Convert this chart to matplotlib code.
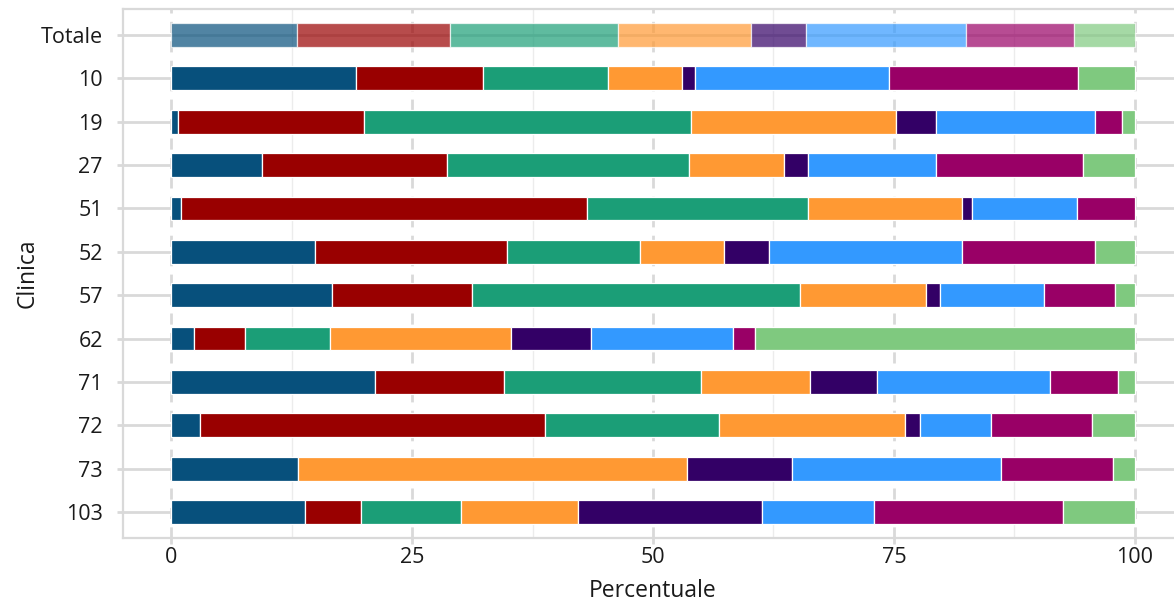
import matplotlib
matplotlib.use("Agg")
import matplotlib.pyplot as plt
import numpy as np

plt.rcParams['font.family'] = ['Open Sans', 'DejaVu Sans']

# clinics, top to bottom
clinics = ["Totale", "10", "19", "27", "51", "52", "57", "62", "71", "72", "73", "103"]

# percent share of each category per clinic
cat1 = [13.1, 19.2, 0.7, 9.4, 1.0, 14.9, 16.7, 2.4, 21.2, 3.0, 13.2, 13.9]
cat2 = [15.8, 13.2, 19.3, 19.2, 42.1, 19.9, 14.5, 5.3, 13.3, 35.8, 0.0, 5.8]
cat3 = [17.5, 12.9, 33.9, 25.1, 23.0, 13.9, 34.1, 8.8, 20.5, 18.0, 0.0, 10.4]
cat4 = [13.8, 7.7, 21.3, 9.9, 16.0, 8.7, 13.0, 18.8, 11.3, 19.4, 40.3, 12.1]
cat5 = [5.7, 1.4, 4.2, 2.5, 1.0, 4.6, 1.5, 8.3, 6.9, 1.5, 10.9, 19.1]
cat6 = [16.6, 20.1, 16.5, 13.3, 10.9, 20.1, 10.8, 14.7, 18.0, 7.4, 21.7, 11.6]
cat7 = [11.2, 19.6, 2.8, 15.2, 6.0, 13.8, 7.3, 2.3, 7.1, 10.5, 11.6, 19.6]
cat8 = [6.3, 5.9, 1.3, 5.4, 0.0, 4.1, 2.1, 39.4, 1.7, 4.4, 2.3, 7.5]

colors = ["#07507c", "#990000", "#1b9e77", "#ff9933",
          "#330066", "#3399ff", "#990066", "#7fc97f"]

series = [cat1, cat2, cat3, cat4, cat5, cat6, cat7, cat8]

fig = plt.figure(figsize=(11.74, 6.03), dpi=100)
ax = fig.add_axes([123/1174, 65/603, 1060/1174, 529/603])

y = np.arange(len(clinics))
left = np.zeros(len(clinics))
for vals, col in zip(series, colors):
    vals = np.array(vals)
    for i in range(len(clinics)):
        if vals[i] <= 0:
            continue
        ax.barh(y[i], vals[i], left=left[i], height=0.55, color=col,
                alpha=0.7 if i == 0 else 1.0, edgecolor="white",
                linewidth=0.9, zorder=3)
    left += vals

ax.set_xlim(-5, 105)
ax.set_ylim(len(clinics) - 0.4, -0.6)

ax.set_xticks([0, 25, 50, 75, 100])
ax.set_xticks([12.5, 37.5, 62.5, 87.5], minor=True)
ax.set_yticks(y)
ax.set_yticklabels(clinics)

# grid
ax.grid(axis="x", which="major", color="#d9d9d9", linestyle=(0, (4, 3)),
        linewidth=2, zorder=1)
ax.grid(axis="x", which="minor", color="#ececec", linewidth=1, zorder=1)
ax.grid(axis="y", which="major", color="#d9d9d9", linewidth=2, zorder=1)

for s in ax.spines.values():
    s.set_color("#d9d9d9")
    s.set_linewidth(1.6)

ax.tick_params(axis="both", which="major", color="#d9d9d9", length=4.5,
               width=2, labelsize=15.5, labelcolor="#1a1a1a")
ax.tick_params(axis="x", which="minor", length=0)
ax.tick_params(axis="x", pad=2)
ax.tick_params(axis="y", pad=10)

ax.set_xlabel("Percentuale", fontsize=16.5, color="#1a1a1a", labelpad=8)
ax.set_ylabel("Clinica", fontsize=16.5, color="#1a1a1a", labelpad=1)

fig.savefig("out.png", dpi=100)
